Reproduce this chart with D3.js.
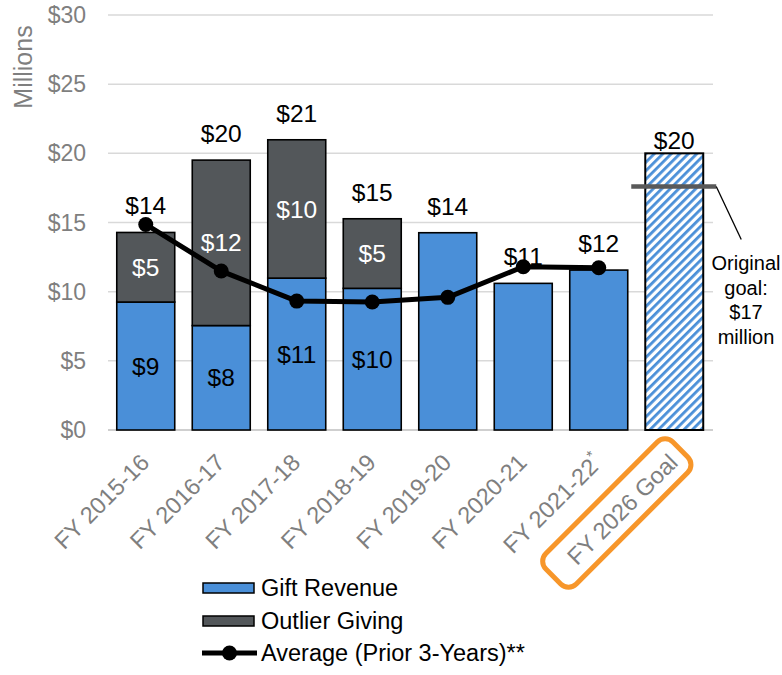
<!DOCTYPE html>
<html><head><meta charset="utf-8">
<script src="https://cdn.jsdelivr.net/npm/d3@7"></script>
<style>body{margin:0;background:#fff}svg{display:block;font-family:"Liberation Sans",Arial,Helvetica,sans-serif}</style>
</head><body><svg id="c" width="782" height="675"></svg>
<script>
const categories = ["FY 2015-16","FY 2016-17","FY 2017-18","FY 2018-19","FY 2019-20","FY 2020-21","FY 2021-22","FY 2026 Goal"];
const categoryMarks = ["","","","","","","*",""];
const giftRevenue = [9.25, 7.55, 10.98, 10.24, 14.26, 10.6, 11.56, 0];
const outlierGiving = [5.03, 11.96, 10.0, 5.03, 0, 0, 0, 0];
const goalValues = [0, 0, 0, 0, 0, 0, 0, 20];
const averagePrior3 = [14.86, 11.49, 9.32, 9.25, 9.59, 11.8, 11.73, null];
const originalGoal = 17.6;
const yTicks = [0, 5, 10, 15, 20, 25, 30];
const legendLabels = ["Gift Revenue", "Outlier Giving", "Average (Prior 3-Years)**"];

const BLUE = "#4a8fd8", DARK = "#53575a", GRAY = "#7f7f7f";
const svg = d3.select("#c");
const x = d3.scaleBand().domain(categories).range([108, 712]).paddingInner(0.232).paddingOuter(0.116);
const y = d3.scaleLinear().domain([0, 30]).range([430, 15]);
const fmt = v => "$" + Math.round(v);

const defs = svg.append("defs");
const pat = defs.append("pattern").attr("id","hatch").attr("patternUnits","userSpaceOnUse")
  .attr("width",6).attr("height",6).attr("patternTransform","rotate(45)");
pat.append("rect").attr("width",6).attr("height",6).attr("fill","#fff");
pat.append("rect").attr("width",2.8).attr("height",6).attr("fill",BLUE);

// gridlines
svg.append("g").selectAll("line").data(yTicks).join("line")
  .attr("x1",108).attr("x2",713).attr("y1",d=>y(d)).attr("y2",d=>y(d))
  .attr("stroke",d=>d===0?"#bfbfbf":"#d9d9d9").attr("stroke-width",1.5);

// y axis labels
svg.append("g").selectAll("text").data(yTicks).join("text")
  .attr("x",86).attr("y",d=>y(d)).attr("dy","0.35em").attr("text-anchor","end")
  .attr("fill",GRAY).attr("font-size",23).text(d=>"$"+d);
svg.append("text").attr("transform","translate(32,67) rotate(-90)").attr("text-anchor","middle")
  .attr("fill",GRAY).attr("font-size",25).text("Millions");

const idx = d3.range(categories.length);
// gift bars
svg.append("g").selectAll("rect").data(idx.filter(i=>giftRevenue[i]>0)).join("rect")
  .attr("x",i=>x(categories[i])).attr("width",x.bandwidth())
  .attr("y",i=>y(giftRevenue[i])).attr("height",i=>y(0)-y(giftRevenue[i]))
  .attr("fill",BLUE).attr("stroke","#000").attr("stroke-width",1.6);
// outlier bars
svg.append("g").selectAll("rect").data(idx.filter(i=>outlierGiving[i]>0)).join("rect")
  .attr("x",i=>x(categories[i])).attr("width",x.bandwidth())
  .attr("y",i=>y(giftRevenue[i]+outlierGiving[i])).attr("height",i=>y(giftRevenue[i])-y(giftRevenue[i]+outlierGiving[i]))
  .attr("fill",DARK).attr("stroke","#000").attr("stroke-width",1.6);
// goal bar
svg.append("g").selectAll("rect").data(idx.filter(i=>goalValues[i]>0)).join("rect")
  .attr("x",i=>x(categories[i])).attr("width",x.bandwidth())
  .attr("y",i=>y(goalValues[i])).attr("height",i=>y(0)-y(goalValues[i]))
  .attr("fill","url(#hatch)").attr("stroke","#000").attr("stroke-width",2);

// original goal marker + annotation
const gi = categories.length-1;
const gx0 = x(categories[gi]) - 14, gx1 = x(categories[gi]) + x.bandwidth() + 13;
svg.append("line").attr("x1",gx0).attr("x2",gx1).attr("y1",y(originalGoal)).attr("y2",y(originalGoal))
  .attr("stroke","#595959").attr("stroke-width",4.5);
svg.append("line").attr("x1",gx1).attr("y1",y(originalGoal)).attr("x2",gx1+25).attr("y2",y(originalGoal)+53)
  .attr("stroke","#000").attr("stroke-width",1.3);
const ann = svg.append("text").attr("text-anchor","middle").attr("font-size",20).attr("fill","#000");
["Original","goal:","$"+Math.floor(originalGoal),"million"].forEach((t,k)=>{
  ann.append("tspan").attr("x",746).attr("y",270+k*24.5).text(t);
});

// inner labels
svg.append("g").selectAll("text").data(idx.filter(i=>outlierGiving[i]>0)).join("text")
  .attr("x",i=>x(categories[i])+x.bandwidth()/2).attr("y",i=>y(giftRevenue[i]/2)).attr("dy","0.35em")
  .attr("text-anchor","middle").attr("font-size",24.5).attr("fill","#000").text(i=>fmt(giftRevenue[i]));
svg.append("g").selectAll("text").data(idx.filter(i=>outlierGiving[i]>0)).join("text")
  .attr("x",i=>x(categories[i])+x.bandwidth()/2).attr("y",i=>y(giftRevenue[i]+outlierGiving[i]/2)).attr("dy","0.35em")
  .attr("text-anchor","middle").attr("font-size",24.5).attr("fill","#fff").text(i=>fmt(outlierGiving[i]));

// average line
const pts = idx.filter(i=>averagePrior3[i]!=null);
const line = d3.line().x(i=>x(categories[i])+x.bandwidth()/2).y(i=>y(averagePrior3[i]));
svg.append("path").datum(pts).attr("d",line).attr("fill","none").attr("stroke","#000").attr("stroke-width",5).attr("stroke-linejoin","round");
svg.append("g").selectAll("circle").data(pts).join("circle")
  .attr("cx",i=>x(categories[i])+x.bandwidth()/2).attr("cy",i=>y(averagePrior3[i])).attr("r",7.5).attr("fill","#000");

// total labels
svg.append("g").selectAll("text").data(idx).join("text")
  .attr("x",i=>x(categories[i])+x.bandwidth()/2)
  .attr("y",i=> goalValues[i]>0 ? y(goalValues[i])-4 : y(giftRevenue[i]+outlierGiving[i])-18)
  .attr("text-anchor","middle").attr("font-size",24.5).attr("fill","#000")
  .text(i=>fmt(giftRevenue[i]+outlierGiving[i]+goalValues[i]));

// x labels
const xl = svg.append("g").selectAll("g").data(idx).join("g")
  .attr("transform",i=>`translate(${x(categories[i])+x.bandwidth()/2+5},${464}) rotate(-45)`);
const xt = xl.append("text").attr("text-anchor","end").attr("font-size",23.5).attr("fill",GRAY);
xt.append("tspan").text(i=>categories[i]);
xt.append("tspan").attr("font-size",15).attr("dy",-10).text(i=>categoryMarks[i]);
// highlight box around goal label
xl.filter(i=>i===gi).each(function(){
  const g = d3.select(this);
  const w = g.select("text").node().getComputedTextLength();
  g.insert("rect","text").attr("x",-w-24).attr("y",-31).attr("width",w+35).attr("height",43)
    .attr("rx",11).attr("fill","none").attr("stroke","#f7962a").attr("stroke-width",5);
});

// legend
const lg = svg.append("g");
const ly = [588, 621, 653];
lg.append("rect").attr("x",203).attr("y",ly[0]-5).attr("width",51).attr("height",10).attr("fill",BLUE).attr("stroke","#000").attr("stroke-width",1.5);
lg.append("rect").attr("x",203).attr("y",ly[1]-5).attr("width",51).attr("height",10).attr("fill",DARK).attr("stroke","#000").attr("stroke-width",1.5);
lg.append("line").attr("x1",202).attr("x2",257).attr("y1",ly[2]).attr("y2",ly[2]).attr("stroke","#000").attr("stroke-width",5);
lg.append("circle").attr("cx",229.5).attr("cy",ly[2]).attr("r",7.5).attr("fill","#000");
lg.selectAll("text").data(legendLabels).join("text")
  .attr("x",261).attr("y",(d,k)=>ly[k]).attr("dy","0.35em").attr("font-size",23.5).attr("fill","#000").text(d=>d);
</script></body></html>
